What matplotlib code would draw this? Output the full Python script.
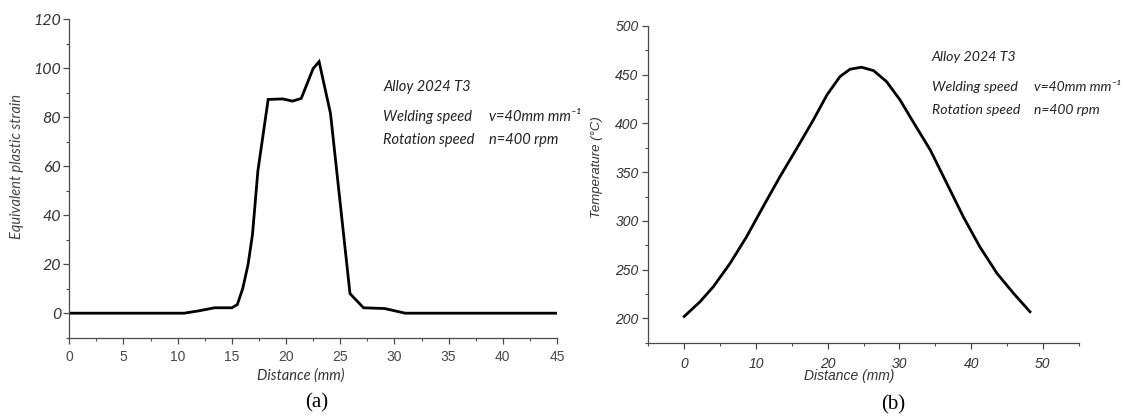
"""
Two-panel figure: (a) equivalent plastic strain and (b) temperature
across the weld, Alloy 2024 T3.  Output: out.png
"""
import matplotlib
matplotlib.use("Agg")
import matplotlib.pyplot as plt
from matplotlib.ticker import MultipleLocator

# --- (a) equivalent plastic strain vs distance ---
dist_a = [0, 10.6, 12.0, 13.4, 15.0, 15.5, 16.0, 16.5, 16.9, 17.4, 18.35,
          19.7, 20.6, 21.4, 22.5, 23.05, 24.1, 25.9, 27.15, 29.1, 31.0, 45]
strain = [0, 0, 1.0, 2.2, 2.2, 3.5, 10, 20, 32, 58, 87.2,
          87.4, 86.5, 87.6, 99.8, 102.6, 81.5, 8.0, 2.2, 1.9, 0, 0]

# --- (b) temperature vs distance ---
dist_b = [0.0, 2.2, 4.05, 6.4, 8.7, 11.0, 13.35, 15.7, 18.0, 19.9, 21.7,
          23.1, 24.7, 26.4, 28.2, 30.1, 31.9, 34.3, 36.6, 38.9, 41.2, 43.6,
          45.9, 48.2]
temp = [202, 217, 232.4, 256.5, 283.8, 314.6, 345.4, 374.5, 403.6, 429.3,
        448, 455.6, 457.7, 454.2, 443, 424, 401.8, 372.8, 338.6, 304.3,
        273.5, 246.2, 225.7, 206.8]

ticks_a_x = list(range(0, 46, 5))
ticks_a_y = list(range(0, 121, 20))
ticks_b_x = list(range(0, 51, 10))
ticks_b_y = list(range(200, 501, 50))

note_lines = [("Alloy 2024 T3", None),
              ("Welding speed", "v=40mm mm\u207b\u00b9"),
              ("Rotation speed", "n=400 rpm")]

FONT_A = ["Lato", "DejaVu Sans"]
FONT_B = "Liberation Sans"
SPINE = "#4a4a4a"
TXT = "#333333"

fig = plt.figure(figsize=(11.25, 4.18), dpi=100)

# ---------------- panel (a) ----------------
ax1 = fig.add_axes([0.0616, 0.1921, 0.4335, 0.7624])
ax1.plot(dist_a, strain, color="black", lw=2.0, solid_joinstyle="miter")
ax1.set_xlim(0, 45)
ax1.set_ylim(-10, 120)
ax1.set_xticks(ticks_a_x)
ax1.set_yticks(ticks_a_y)
ax1.xaxis.set_minor_locator(MultipleLocator(2.5))
ax1.yaxis.set_minor_locator(MultipleLocator(10))
for lab in ax1.get_yticklabels():
    lab.set_fontfamily(FONT_A)
    lab.set_fontstyle("italic")
    lab.set_fontsize(11.5)
    lab.set_color(TXT)
for lab in ax1.get_xticklabels():
    lab.set_fontfamily(FONT_B)
    lab.set_fontsize(10)
    lab.set_color("#484848")
ax1.tick_params(axis="y", which="major", length=4, width=0.9, pad=2, color=SPINE)
ax1.tick_params(axis="x", which="major", length=4, width=0.9, pad=5, color=SPINE)
ax1.tick_params(which="minor", length=2.5, width=0.8, color=SPINE)

ny = [0.7876, 0.6934, 0.6203]
for (left, right), yy in zip(note_lines, ny):
    ax1.text(0.644, yy, left, transform=ax1.transAxes, fontfamily=FONT_A,
             fontstyle="italic", fontsize=10.5, color="#222222", va="center",
             clip_on=False)
    if right:
        ax1.text(0.860, yy, right, transform=ax1.transAxes, fontfamily=FONT_A,
                 fontstyle="italic", fontsize=10.5, color="#222222",
                 va="center", clip_on=False)

# ---------------- panel (b) ----------------
ax2 = fig.add_axes([0.5763, 0.1801, 0.3826, 0.7577])
ax2.plot(dist_b, temp, color="black", lw=2.0)
ax2.set_xlim(-5, 55)
ax2.set_ylim(175, 500)
ax2.set_xticks(ticks_b_x)
ax2.set_yticks(ticks_b_y)
ax2.xaxis.set_minor_locator(MultipleLocator(5))
ax2.yaxis.set_minor_locator(MultipleLocator(25))
for lab in ax2.get_xticklabels() + ax2.get_yticklabels():
    lab.set_fontfamily(FONT_B)
    lab.set_fontstyle("italic")
    lab.set_fontsize(10)
    lab.set_color(TXT)
ax2.tick_params(axis="y", which="major", length=4, width=0.9, pad=3, color=SPINE)
ax2.tick_params(axis="x", which="major", length=4, width=0.9, pad=6, color=SPINE)
ax2.tick_params(which="minor", length=2.5, width=0.8, color=SPINE)

ny = [0.902, 0.807, 0.7347]
for (left, right), yy in zip(note_lines, ny):
    ax2.text(0.6580, yy, left, transform=ax2.transAxes, fontfamily=FONT_A,
             fontstyle="italic", fontsize=10.2, color="#222222", va="center",
             clip_on=False)
    if right:
        ax2.text(0.897, yy, right, transform=ax2.transAxes, fontfamily=FONT_A,
                 fontstyle="italic", fontsize=10, color="#222222",
                 va="center", clip_on=False)

for ax in (ax1, ax2):
    for spine in ("top", "right"):
        ax.spines[spine].set_visible(False)
    for spine in ("left", "bottom"):
        ax.spines[spine].set_color(SPINE)
        ax.spines[spine].set_linewidth(0.9)

# axis titles and panel letters
fig.text(0.0151, 0.6005, "Equivalent plastic strain", rotation=90,
         ha="center", va="center", fontfamily=FONT_A, fontstyle="italic",
         fontsize=10.5, color="#444444")
fig.text(0.2676, 0.1005, "Distance (mm)", ha="center", va="center",
         fontfamily=FONT_A, fontstyle="italic", fontsize=10.5, color="#333333")
fig.text(0.5307, 0.6005, "Temperature (°C)", rotation=90, ha="center",
         va="center", fontfamily=FONT_B, fontstyle="italic", fontsize=9.5,
         color="#333333")
fig.text(0.7547, 0.1005, "Distance (mm)", ha="center", va="center",
         fontfamily=FONT_B, fontstyle="italic", fontsize=10, color="#333333")
fig.text(0.2818, 0.036, "(a)", ha="center", va="center",
         fontfamily="Liberation Serif", fontsize=15, color="black")
fig.text(0.7938, 0.031, "(b)", ha="center", va="center",
         fontfamily="Liberation Serif", fontsize=15, color="black")

fig.savefig("out.png", dpi=100)
